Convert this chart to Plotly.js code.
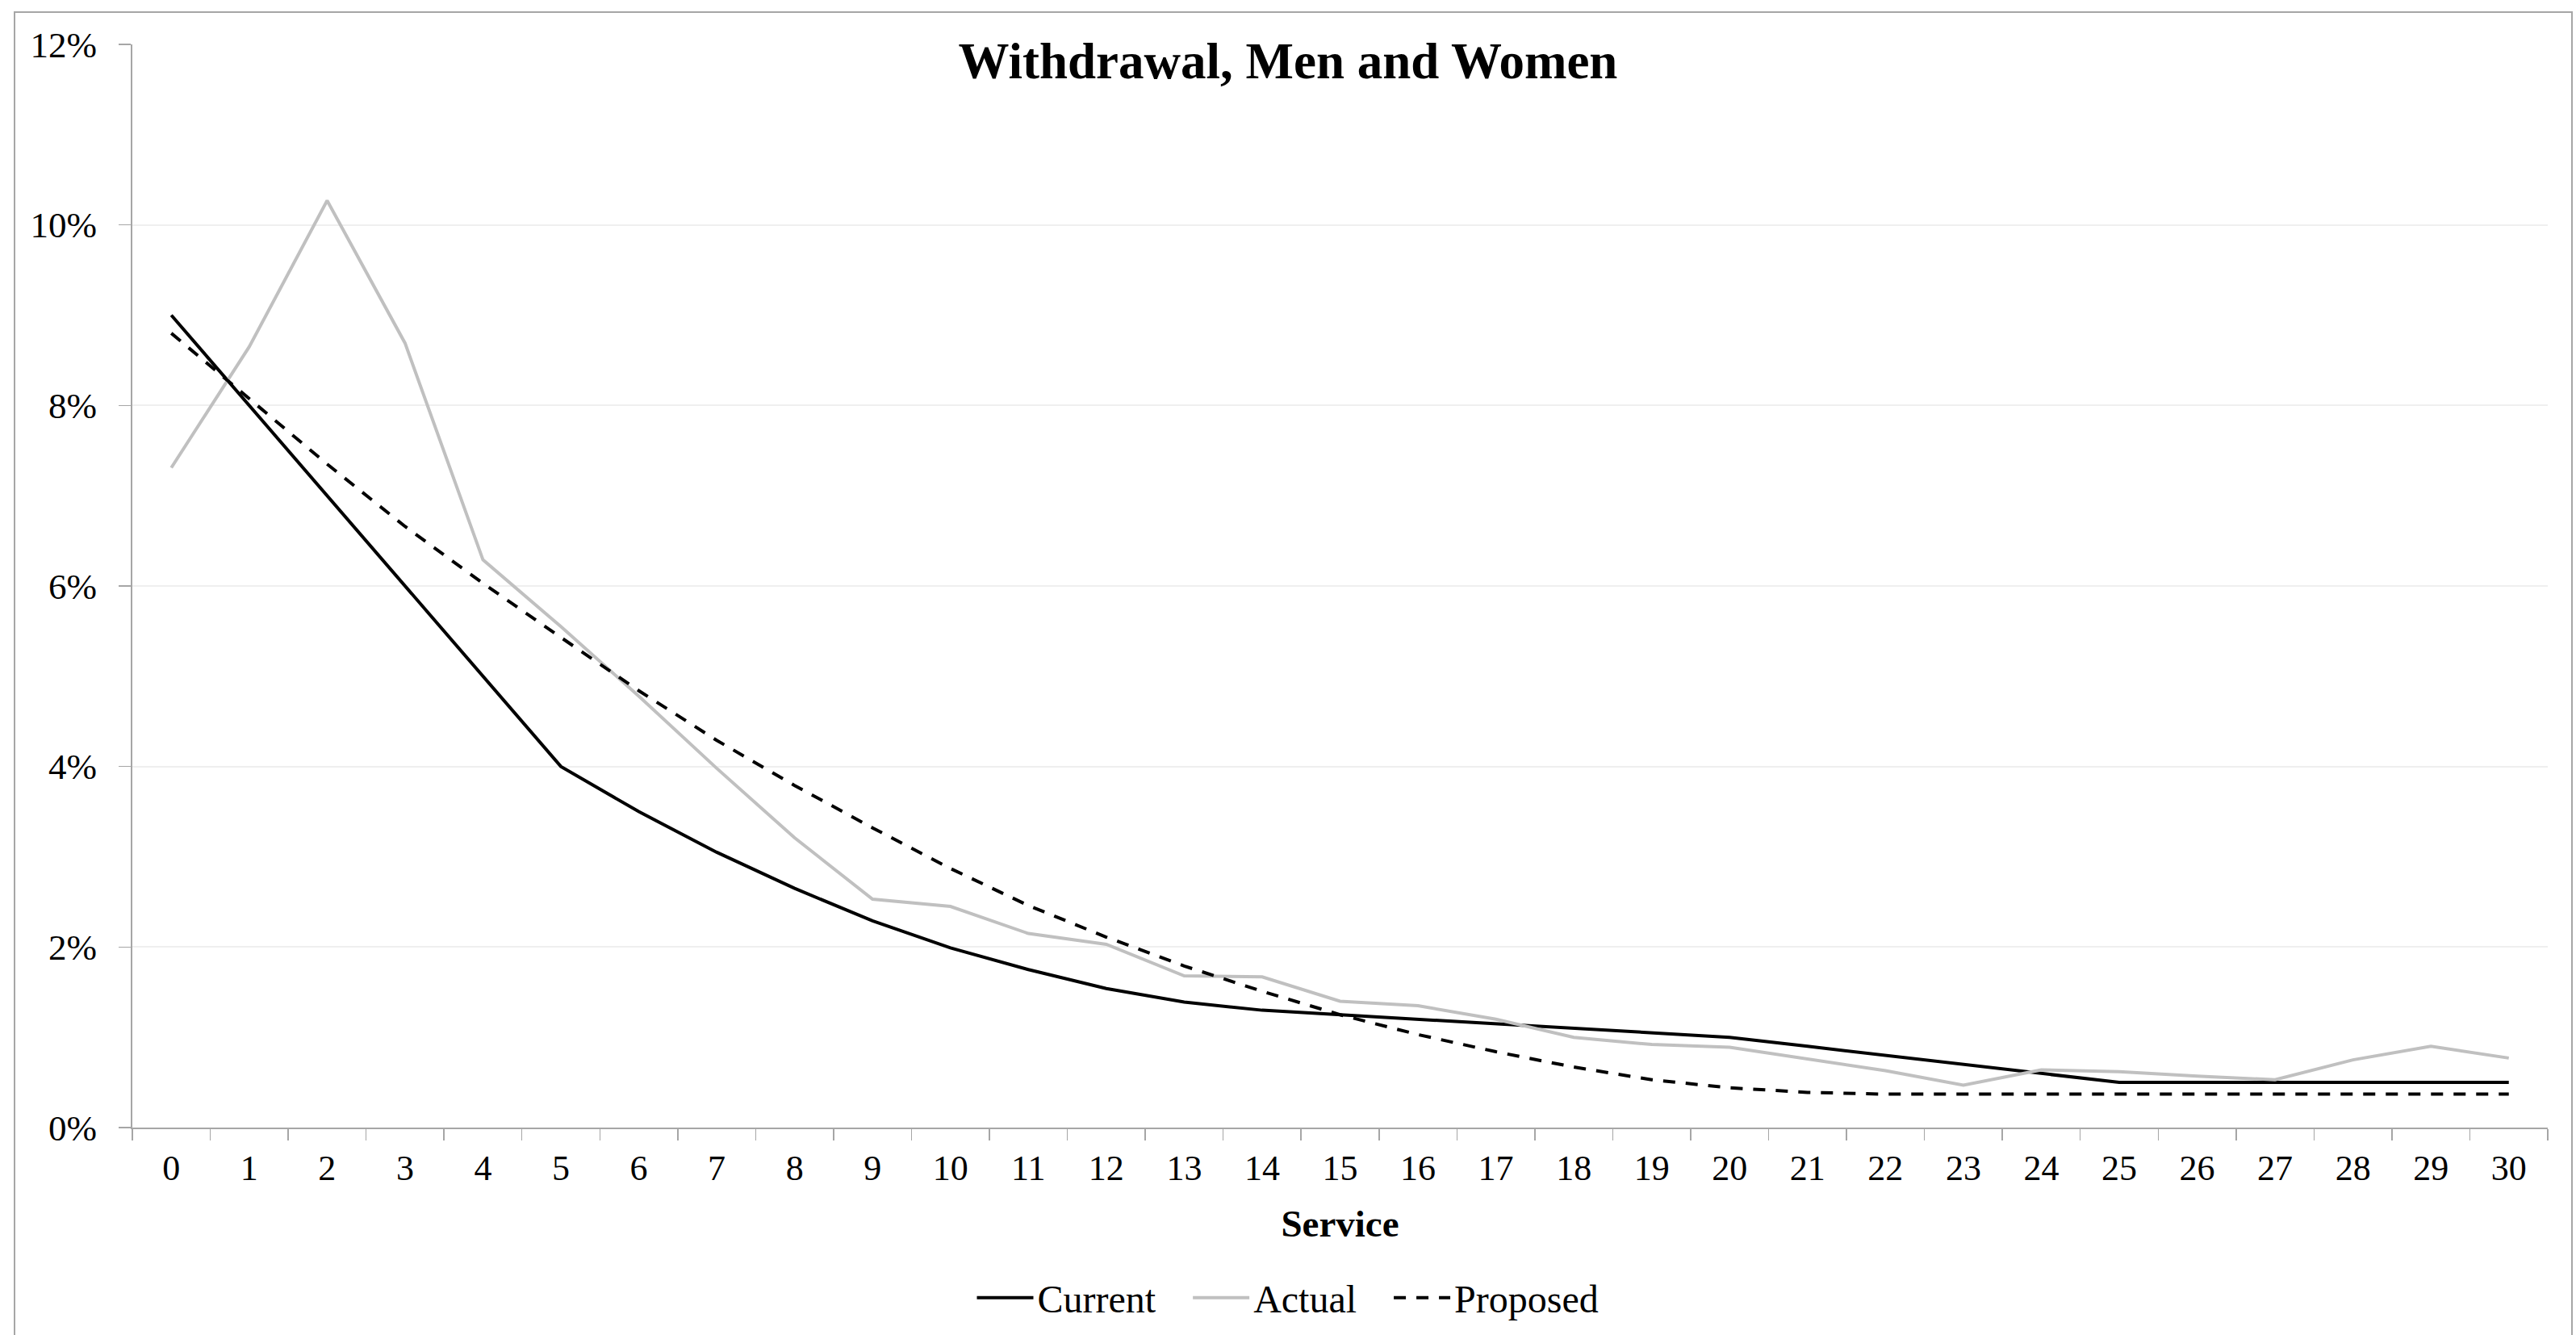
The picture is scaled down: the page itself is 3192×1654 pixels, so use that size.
<!DOCTYPE html>
<html>
<head>
<meta charset="utf-8">
<script src="https://cdn.plot.ly/plotly-3.0.1.min.js"></script>
<style>html,body{margin:0;padding:0;background:#fff;}#chart{width:3192px;height:1654px;}</style>
</head>
<body>
<div id="chart"></div>
<script>
const service = [0,1,2,3,4,5,6,7,8,9,10,11,12,13,14,15,16,17,18,19,20,21,22,23,24,25,26,27,28,29,30];
const currentRate = [9.0,8.0,7.0,6.0,5.0,4.0,3.5,3.05,2.65,2.29,1.99,1.75,1.54,1.39,1.30,1.25,1.20,1.15,1.10,1.05,1.00,0.90,0.80,0.70,0.60,0.50,0.50,0.50,0.50,0.50,0.50];
const actualRate = [7.31,8.65,10.27,8.69,6.29,5.55,4.78,3.98,3.21,2.53,2.45,2.15,2.03,1.68,1.67,1.40,1.35,1.20,1.00,0.92,0.89,0.76,0.63,0.47,0.64,0.62,0.57,0.53,0.75,0.90,0.77];
const proposedRate = [8.80,8.07,7.35,6.66,6.03,5.43,4.84,4.29,3.79,3.32,2.87,2.46,2.11,1.79,1.51,1.25,1.03,0.84,0.67,0.53,0.44,0.39,0.37,0.37,0.37,0.37,0.37,0.37,0.37,0.37,0.37];
const yTicks = [0,2,4,6,8,10,12];
const yTickLabels = ["0%","2%","4%","6%","8%","10%","12%"];
const seriesNames = ["Current","Actual","Proposed"];

const serif = "Liberation Serif, Times New Roman, serif";
const xCats = service.map(String);
const pad = "&nbsp;&nbsp;&nbsp;";

const traces = [
  {x: xCats, y: currentRate, name: seriesNames[0] + pad, type: "scatter", mode: "lines",
   line: {color: "#000000", width: 4}},
  {x: xCats, y: actualRate, name: seriesNames[1] + pad, type: "scatter", mode: "lines",
   line: {color: "#c0c0c0", width: 4}},
  {x: xCats, y: proposedRate, name: seriesNames[2], type: "scatter", mode: "lines",
   line: {color: "#000000", width: 4, dash: "15px,13px"}}
];

const layout = {
  width: 3192, height: 1654,
  margin: {l: 164, r: 35, t: 55, b: 257},
  paper_bgcolor: "#ffffff", plot_bgcolor: "#ffffff",
  font: {family: serif, color: "#000000", size: 44},
  showlegend: true,
  title: {text: "<b>Withdrawal, Men and Women</b>", font: {family: serif, size: 63, color: "#000"},
          x: 0.5, xref: "container", xanchor: "center", y: 1 - 75/1654, yref: "container", yanchor: "middle"},
  xaxis: {type: "category", range: [-0.5, 30.5], tickson: "boundaries",
          showline: true, linecolor: "#a6a6a6", linewidth: 2, showgrid: false, zeroline: false,
          ticks: "outside", ticklen: 14, tickwidth: 1.5, tickcolor: "#a6a6a6",
          tickfont: {family: serif, size: 44, color: "#000"}, ticklabelstandoff: 10,
          title: {text: "<b>Service</b>", font: {family: serif, size: 47, color: "#000"}, standoff: 28},
          fixedrange: true},
  yaxis: {range: [0, 12], tickvals: yTicks, ticktext: yTickLabels,
          showline: true, linecolor: "#a6a6a6", linewidth: 2, showgrid: true, gridcolor: "#efefef", gridwidth: 2,
          zeroline: false, ticks: "outside", ticklen: 15, tickwidth: 1.5, tickcolor: "#a6a6a6",
          tickfont: {family: serif, size: 45, color: "#000"}, ticklabelstandoff: 18, fixedrange: true},
  legend: {orientation: "h", x: 0.5, xref: "container", xanchor: "center",
           y: 1 - 1608/1654, yref: "container", yanchor: "middle",
           font: {family: serif, size: 48, color: "#000"}, itemwidth: 70, tracegroupgap: 0,
           bgcolor: "rgba(0,0,0,0)"},
  shapes: [
    {type: "rect", xref: "paper", yref: "paper",
     x0: (18-164)/2993, x1: (3187-164)/2993, y0: -0.3, y1: (1397-15)/1342,
     line: {color: "#a6a6a6", width: 2}, fillcolor: "rgba(0,0,0,0)", layer: "below"}
  ]
};

Plotly.newPlot("chart", traces, layout, {displayModeBar: false, staticPlot: true});
</script>
</body>
</html>
